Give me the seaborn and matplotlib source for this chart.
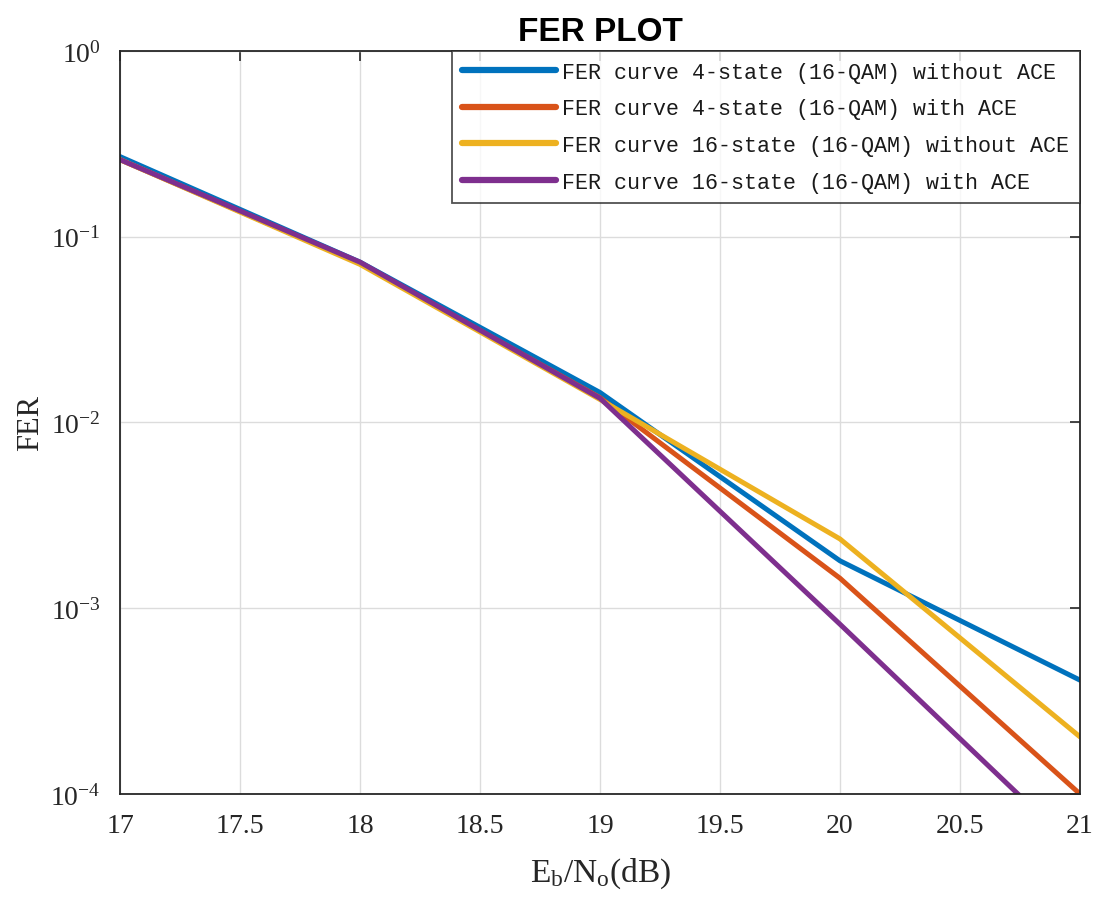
import numpy as np
import pandas as pd
import matplotlib
matplotlib.use("Agg")
import matplotlib.pyplot as plt
import seaborn as sns

snr = [17, 18, 19, 20, 21]
fer_4state_no_ace = [0.27, 0.073, 0.0145, 0.0018, 0.00041]
fer_4state_ace = [0.26, 0.072, 0.0136, 0.00145, 0.0001]
fer_16state_no_ace = [0.26, 0.071, 0.0133, 0.00236, 0.000203]
fer_16state_ace = [0.26, 0.073, 0.0135, 0.00082, 0.000048]
labels = ["FER curve 4-state (16-QAM) without ACE",
          "FER curve 4-state (16-QAM) with ACE",
          "FER curve 16-state (16-QAM) without ACE",
          "FER curve 16-state (16-QAM) with ACE"]
colors = ["#0072BD", "#D95319", "#EDB120", "#7E2F8E"]
xticks = [17, 17.5, 18, 18.5, 19, 19.5, 20, 20.5, 21]

sns.set_style("white")
plt.rcParams['font.family'] = ['Liberation Serif', 'DejaVu Serif']
plt.rcParams['mathtext.default'] = 'regular'

rows = []
for lab, ys in zip(labels, [fer_4state_no_ace, fer_4state_ace, fer_16state_no_ace, fer_16state_ace]):
    for x, y in zip(snr, ys):
        rows.append({"snr": x, "fer": y, "curve": lab})
df = pd.DataFrame(rows)

fig = plt.figure(figsize=(10.97, 9.04), dpi=100)
ax = fig.add_axes([0.1094, 0.1206, 0.8751, 0.8219])
sns.lineplot(data=df, x="snr", y="fer", hue="curve", hue_order=labels,
             palette=colors, linewidth=3.6, ax=ax, legend=True)
ax.set_yscale("log")
ax.set_xlim(17, 21)
ax.set_ylim(1e-4, 1)
ax.set_xticks(xticks)
ax.set_xticklabels([f"{t:g}" for t in xticks])
ax.set_yticks([1e-4, 1e-3, 1e-2, 1e-1, 1])
ax.yaxis.set_minor_locator(matplotlib.ticker.NullLocator())
ax.grid(True, which="major", color="#dcdcdc", linewidth=1.0)
ax.tick_params(axis="both", which="major", direction="in", length=7, width=1.2,
               labelsize=20, colors="#262626", top=True, right=True, pad=14)
for s in ax.spines.values():
    s.set_color("#262626")
    s.set_linewidth(1.3)
ax.set_xlabel(r"E$_{b}$/N$_{o}$(dB)", fontsize=24, color="#262626", labelpad=12)
ax.set_ylabel("FER", fontsize=22, color="#262626", labelpad=4)
ax.set_title("FER PLOT", fontsize=24, fontweight="bold", family="Liberation Sans",
             color="black", pad=8)

leg = ax.legend(loc="upper right", borderaxespad=0, frameon=True, fancybox=False,
                prop={"family": "Liberation Mono", "size": 15.6}, handlelength=4.3,
                handletextpad=0.3, labelspacing=0.72, borderpad=0.5)
leg.get_frame().set_edgecolor("#262626")
leg.get_frame().set_linewidth(1.3)
for line in leg.get_lines():
    line.set_linewidth(4.5)
for t in leg.get_texts():
    t.set_color("#1a1a1a")

fig.savefig("out.png", dpi=100)
